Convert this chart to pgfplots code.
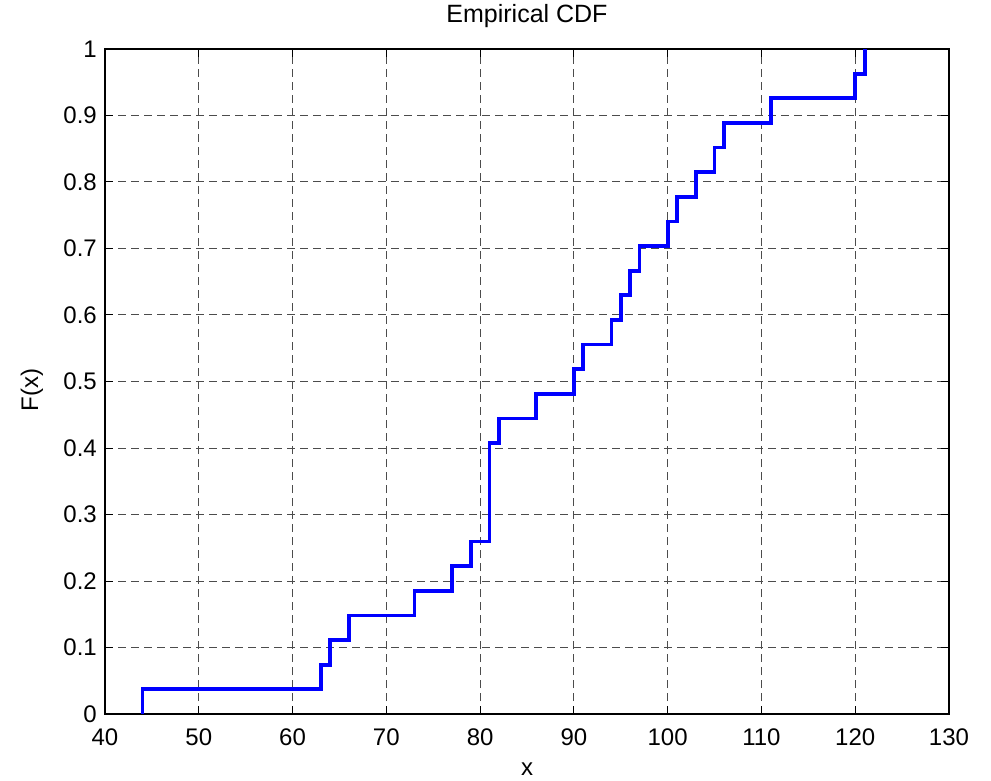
\documentclass[border=0pt]{standalone}
\usepackage{pgfplots}
\pgfplotsset{compat=1.18}
\usepackage{fontspec}
\setmainfont{Liberation Sans}
\begin{document}
\begin{tikzpicture}[x=1pt,y=1pt]
\path[use as bounding box] (0,0) rectangle (991,780);
\begin{axis}[
  at={(105pt,66pt)}, anchor=south west,
  scale only axis, width=844pt, height=665pt,
  xmin=40, xmax=130, ymin=0, ymax=1,
  xtick={40,50,60,70,80,90,100,110,120,130},
  ytick={0,0.1,0.2,0.3,0.4,0.5,0.6,0.7,0.8,0.9,1},
  yticklabels={0,0.1,0.2,0.3,0.4,0.5,0.6,0.7,0.8,0.9,1},
  /pgf/number format/assume math mode=true,
  tick align=inside,
  major tick length=8pt,
  axis line style={line width=1.2pt, black},
  every tick/.style={line width=1pt, black},
  grid=major,
  major grid style={line width=1pt, black!70, dash pattern=on 8pt off 5pt},
  tick label style={font=\fontsize{24}{28}\selectfont, inner sep=0pt},
  xticklabel style={anchor=north, yshift=-14.5pt},
  yticklabel style={anchor=east, xshift=-8pt},
  title={Empirical CDF},
  title style={font=\fontsize{25}{29}\selectfont, anchor=base, at={(axis description cs:0.5,1.031)}, inner sep=0pt},
  xlabel={x},
  xlabel style={font=\fontsize{24}{28}\selectfont, anchor=base, at={(axis description cs:0.5,-0.092)}, inner sep=0pt},
  ylabel={F(x)},
  ylabel style={font=\fontsize{24}{28}\selectfont, anchor=center, rotate=0, at={(axis description cs:-0.0865,0.487)}, inner sep=0pt},
]
\addplot[const plot, color={rgb,255:red,0;green,0;blue,255}, line width=3.8pt, line join=miter] coordinates {
(44,0) (44,0.0370) (63,0.0741) (64,0.1111) (66,0.1481) (73,0.1852)
(77,0.2222) (79,0.2593) (81,0.4074) (82,0.4444) (86,0.4815) (90,0.5185)
(91,0.5556) (94,0.5926) (95,0.6296) (96,0.6667) (97,0.7037) (100,0.7407)
(101,0.7778) (103,0.8148) (105,0.8519) (106,0.8889) (111,0.9259)
(120,0.9630) (121,1)
};
\end{axis}
\end{tikzpicture}
\end{document}
